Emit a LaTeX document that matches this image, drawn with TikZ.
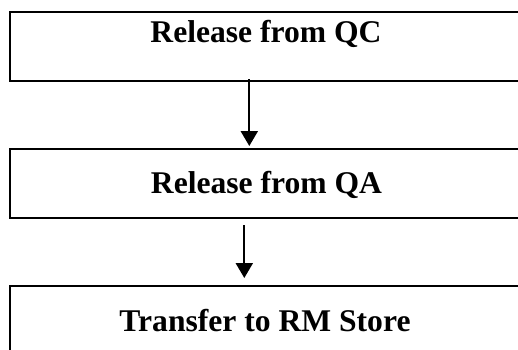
\documentclass[tikz,border=0pt]{standalone}
\usepackage{fontspec}
\setmainfont{Liberation Serif}
\usetikzlibrary{arrows.meta}
\begin{document}
\begin{tikzpicture}[x=1pt,y=-1pt,
  box/.style={draw, line width=2pt, minimum width=514pt, inner sep=0pt, anchor=north west},
  lbl/.style={font=\fontsize{31.6}{36}\selectfont\bfseries, anchor=base, inner sep=0pt},
  arr/.style={line width=2.2pt, -{Triangle[length=15pt,width=17pt]}}]
\useasboundingbox (0,0) rectangle (518,349);
\clip (0,0) rectangle (518,349);
\node[box, minimum height=69pt] (b1) at (9,11) {};
\node[box, minimum height=69pt] (b2) at (9,148) {};
\node[box, minimum height=120pt] (b3) at (9,285) {};
\node[lbl] (t1) at (266,42) {Release from QC};
\node[lbl] (t2) at (266.5,193) {Release from QA};
\node[lbl] (t3) at (265,331) {Transfer to RM Store};
\coordinate (a1) at (249.3,0);
\coordinate (a2) at (244.3,0);
\draw[arr, shorten <=-3pt, shorten >=2pt] (b1.south -| a1) -- (b2.north -| a1);
\draw[arr, shorten <=6pt, shorten >=7pt] (b2.south -| a2) -- (b3.north -| a2);
\end{tikzpicture}
\end{document}
